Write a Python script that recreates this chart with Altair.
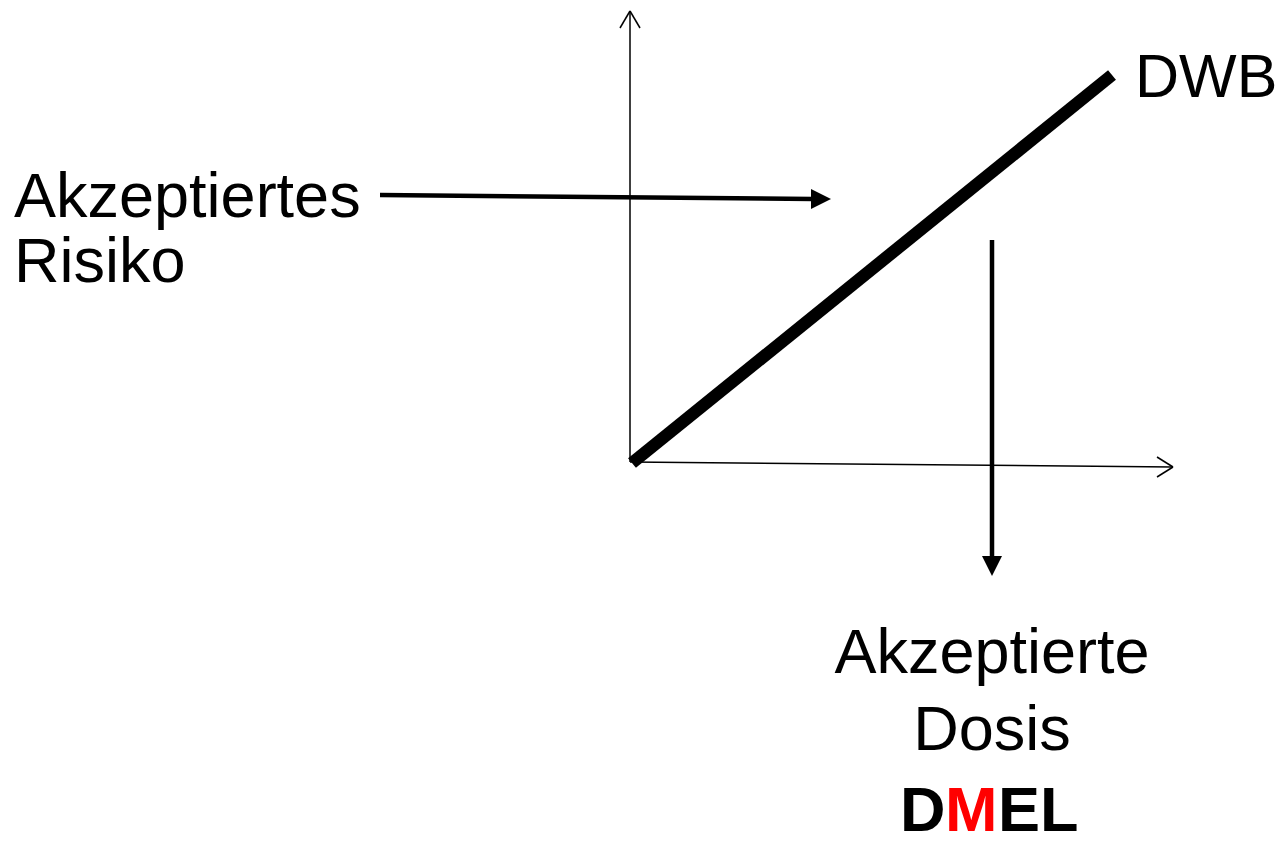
import altair as alt
import pandas as pd

# Diagram geometry, in picture pixel units (x to the right, y downward)
seg_x1 = [630, 630, 630, 630, 1173, 1173, 632, 380, 992]
seg_y1 = [462, 11, 11, 462, 467, 467, 463, 195, 240]
seg_x2 = [630, 620, 640, 1173, 1157, 1157, 1112, 813, 992]
seg_y2 = [11, 28, 28, 467, 457, 477, 75, 199, 558]
seg_w = [1.5, 1.5, 1.5, 1.5, 1.5, 1.5, 12.5, 4.5, 4.5]

head_x = [821, 992]
head_y = [199, 566]
head_angle = [0, 90]

left_text = ["Akzeptiertes", "Risiko"]
left_x = [14, 14]
left_y = [217, 282]

dwb_text = ["DWB"]
dwb_x = [1135]
dwb_y = [97]

center_text = ["Akzeptierte", "Dosis"]
center_x = [992, 992]
center_y = [673, 750]

bold_text = ["D", "M", "EL"]
bold_x = [900, 945, 998]
bold_y = [831, 831, 831]
bold_color = ["black", "red", "black"]

W, H = 1272, 826
xs = alt.Scale(domain=[8, 8 + W], nice=False, zero=False)
ys = alt.Scale(domain=[8, 8 + H], nice=False, zero=False, reverse=True)
FONT = "Liberation Sans"
FS = 63

segs = pd.DataFrame({"x": seg_x1, "y": seg_y1, "x2": seg_x2, "y2": seg_y2, "w": seg_w})
heads = pd.DataFrame({"x": head_x, "y": head_y, "a": head_angle})
lt = pd.DataFrame({"t": left_text, "x": left_x, "y": left_y})
dt = pd.DataFrame({"t": dwb_text, "x": dwb_x, "y": dwb_y})
ct = pd.DataFrame({"t": center_text, "x": center_x, "y": center_y})
bt = pd.DataFrame({"t": bold_text, "x": bold_x, "y": bold_y, "c": bold_color})

X = lambda: alt.X("x:Q", scale=xs, axis=None)
Y = lambda: alt.Y("y:Q", scale=ys, axis=None)

rules = alt.Chart(segs).mark_rule(color="black", strokeCap="butt").encode(
    x=X(), y=Y(), x2="x2:Q", y2="y2:Q",
    strokeWidth=alt.StrokeWidth("w:Q", scale=None, legend=None),
)

arrowheads = alt.Chart(heads).mark_point(
    shape="M-1,-1L1,0L-1,1Z", filled=True, color="black", opacity=1, size=400, strokeWidth=0
).encode(x=X(), y=Y(), angle=alt.Angle("a:Q", scale=None))

txt_left = alt.Chart(lt).mark_text(
    align="left", baseline="alphabetic", font=FONT, fontSize=FS, color="black"
).encode(x=X(), y=Y(), text="t:N")

txt_dwb = alt.Chart(dt).mark_text(
    align="left", baseline="alphabetic", font=FONT, fontSize=61, color="black"
).encode(x=X(), y=Y(), text="t:N")

txt_center = alt.Chart(ct).mark_text(
    align="center", baseline="alphabetic", font=FONT, fontSize=FS, color="black"
).encode(x=X(), y=Y(), text="t:N")

txt_bold = alt.Chart(bt).mark_text(
    align="left", baseline="alphabetic", font=FONT, fontSize=FS, fontWeight="bold"
).encode(x=X(), y=Y(), text="t:N", color=alt.Color("c:N", scale=None, legend=None))

chart = alt.layer(rules, arrowheads, txt_left, txt_dwb, txt_center, txt_bold).properties(
    width=W, height=H, padding=0, autosize=alt.AutoSizeParams(type="none")
).configure_view(stroke=None)

chart.save("out.html", embed_options={"renderer": "svg", "actions": False})
